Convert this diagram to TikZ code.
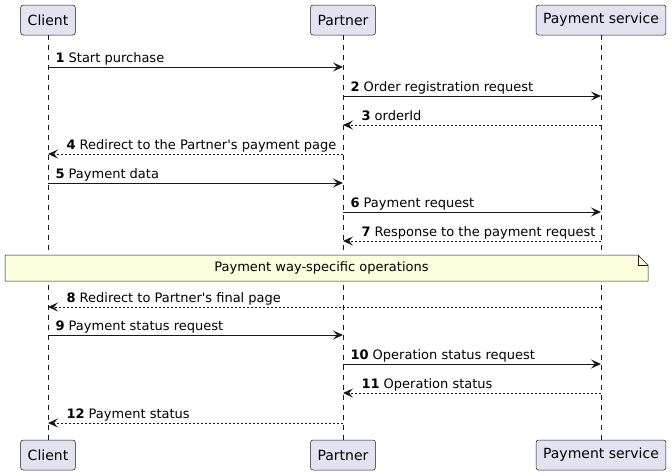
\documentclass[tikz,border=0pt]{standalone}
\usepackage{fontspec}
\setmainfont{DejaVu Sans}
\usepackage{xcolor}
\usetikzlibrary{arrows.meta}

\definecolor{actorfill}{HTML}{E2E2F0}
\definecolor{linegray}{HTML}{181818}
\definecolor{notefill}{HTML}{FEFFDD}

\begin{document}
\begin{tikzpicture}[x=1pt, y=-1pt,
    actor/.style = {draw=linegray, fill=actorfill, rounded corners=2.5pt, line width=0.5pt,
                    minimum height=30pt, inner xsep=7pt, font=\fontsize{14}{16}\selectfont},
    lifeline/.style = {draw=linegray, line width=0.5pt, dash pattern=on 5pt off 5pt},
    msg/.style = {draw=linegray, line width=1pt, -{Stealth[length=10pt,width=9pt,inset=4pt]}},
    reply/.style = {msg, dash pattern=on 2pt off 2pt},
    lbl/.style = {inner sep=0pt, anchor=base west, font=\fontsize{13}{15}\selectfont}]
    \useasboundingbox (0,0) rectangle (672,475);

    \node[actor] (cT) at (48,20)  {Client};
    \node[actor] (pT) at (343,20) {Partner};
    \node[actor] (sT) at (601,20) {Payment service};
    \node[actor] (cB) at (48,455)  {Client};
    \node[actor] (pB) at (343,455) {Partner};
    \node[actor] (sB) at (601,455) {Payment service};

    \draw[lifeline] (cT) -- (cB);
    \draw[lifeline] (pT) -- (pB);
    \draw[lifeline] (sT) -- (sB);

    % message rows on the three lifelines
    \foreach \y [count=\i] in {67,96,125,154,183,212,241,307,335,364,393,423} {
        \coordinate (c\i) at (48,\y);
        \coordinate (p\i) at (343,\y);
        \coordinate (s\i) at (601,\y);
    }

    \draw[msg]   (c1) -- (p1)   node[lbl, pos=0, xshift=7pt,  yshift=5pt] (t1)  {\textbf{1} Start purchase};
    \draw[msg]   (p2) -- (s2)   node[lbl, pos=0, xshift=7pt,  yshift=5pt] (t2)  {\textbf{2} Order registration request};
    \draw[reply] (s3) -- (p3)   node[lbl, pos=1, xshift=18pt, yshift=5pt] (t3)  {\textbf{3} orderId};
    \draw[reply] (p4) -- (c4)   node[lbl, pos=1, xshift=18pt, yshift=5pt] (t4)  {\textbf{4} Redirect to the Partner\textquotesingle s payment page};
    \draw[msg]   (c5) -- (p5)   node[lbl, pos=0, xshift=7pt,  yshift=5pt] (t5)  {\textbf{5} Payment data};
    \draw[msg]   (p6) -- (s6)   node[lbl, pos=0, xshift=7pt,  yshift=5pt] (t6)  {\textbf{6} Payment request};
    \draw[reply] (s7) -- (p7)   node[lbl, pos=1, xshift=18pt, yshift=5pt] (t7)  {\textbf{7} Response to the payment request};

    % note across all participants
    \draw[draw=linegray, fill=notefill, line width=0.5pt]
        (5,255) -- (638,255) -- (648,265) -- (648,281) -- (5,281) -- cycle;
    \draw[draw=linegray, line width=0.5pt] (638,255) -- (638,265) -- (648,265);
    \node[font=\fontsize{13}{15}\selectfont] (note) at (321.5,268) {Payment way-specific operations};

    \draw[reply] (s8) -- (c8)   node[lbl, pos=1, xshift=18pt, yshift=5pt] (t8)  {\textbf{8} Redirect to Partner\textquotesingle s final page};
    \draw[msg]   (c9) -- (p9)   node[lbl, pos=0, xshift=7pt,  yshift=5pt] (t9)  {\textbf{9} Payment status request};
    \draw[msg]   (p10) -- (s10) node[lbl, pos=0, xshift=7pt,  yshift=5pt] (t10) {\textbf{10} Operation status request};
    \draw[reply] (s11) -- (p11) node[lbl, pos=1, xshift=18pt, yshift=5pt] (t11) {\textbf{11} Operation status};
    \draw[reply] (p12) -- (c12) node[lbl, pos=1, xshift=18pt, yshift=5pt] (t12) {\textbf{12} Payment status};
\end{tikzpicture}
\end{document}
